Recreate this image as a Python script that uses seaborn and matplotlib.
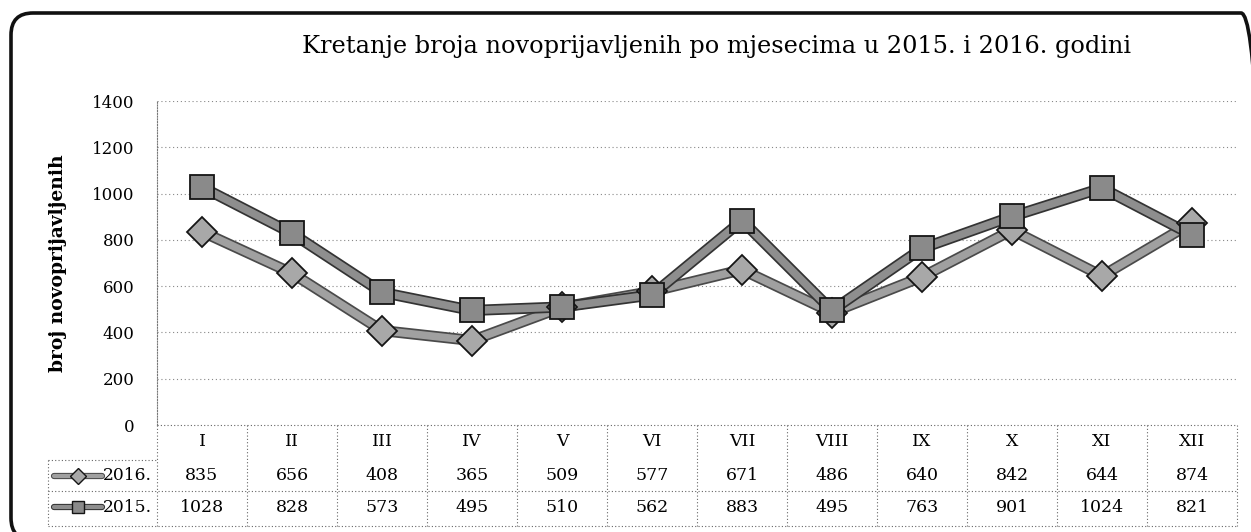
import numpy as np
import pandas as pd
import matplotlib
matplotlib.use("Agg")
import matplotlib.pyplot as plt
import matplotlib.patheffects as pe
from matplotlib.patches import FancyBboxPatch
import seaborn as sns

title = "Kretanje broja novoprijavljenih po mjesecima u 2015. i 2016. godini"
ylabel = "broj novoprijavljenih"
months = ["I", "II", "III", "IV", "V", "VI", "VII", "VIII", "IX", "X", "XI", "XII"]
vals_2016 = [835, 656, 408, 365, 509, 577, 671, 486, 640, 842, 644, 874]
vals_2015 = [1028, 828, 573, 495, 510, 562, 883, 495, 763, 901, 1024, 821]
series_names = ["2016.", "2015."]
yticks = [0, 200, 400, 600, 800, 1000, 1200, 1400]

sns.set_theme(style="white")
plt.rcParams["font.family"] = ["DejaVu Serif"]
plt.rcParams["text.color"] = "black"
plt.rcParams["axes.labelcolor"] = "black"
plt.rcParams["ytick.color"] = "black"

W, H = 1251, 532
fig = plt.figure(figsize=(W / 100, H / 100), dpi=100)
fig.patch.set_facecolor("white")

# overlay in pixel coordinates (y measured from the top)
ov = fig.add_axes([0, 0, 1, 1], zorder=0)
ov.set_xlim(0, W)
ov.set_ylim(0, H)
ov.axis("off")

def Y(py):
    return H - py

ov.add_patch(FancyBboxPatch((11, Y(540)), 1252, 527,
                            boxstyle="round,pad=0,rounding_size=22",
                            fill=False, edgecolor="#111111", linewidth=2.6))

left, right, top, bottom = 157, 1237, 101, 425
ax = fig.add_axes([left / W, 1 - bottom / H, (right - left) / W, (bottom - top) / H], zorder=2)
ax.patch.set_alpha(0)

x = np.arange(len(months))
df = pd.DataFrame({
    "x": np.concatenate([x, x]),
    "v": vals_2016 + vals_2015,
    "s": [series_names[0]] * 12 + [series_names[1]] * 12,
})

styles = {
    series_names[0]: dict(marker="D", color="#a0a0a0", edge="#4a4a4a", ms=15, mfc="#a8a8a8"),
    series_names[1]: dict(marker="s", color="#8e8e8e", edge="#333333", ms=17, mfc="#8a8a8a"),
}
for name in [series_names[0], series_names[1]]:
    st = styles[name]
    sub = df[df["s"] == name]
    sns.lineplot(data=sub, x="x", y="v", ax=ax, color=st["color"], linewidth=5.5,
                 path_effects=[pe.Stroke(linewidth=8, foreground=st["edge"]), pe.Normal()],
                 legend=False, zorder=3)
    sns.lineplot(data=sub, x="x", y="v", ax=ax, linestyle="none",
                 marker=st["marker"], markersize=st["ms"], markerfacecolor=st["mfc"],
                 markeredgecolor="#151515", markeredgewidth=1.3, legend=False, zorder=4)

ax.set_xlim(-0.5, 11.5)
ax.set_ylim(0, 1400)
ax.set_yticks(yticks)
ax.set_yticklabels([str(t) for t in yticks], fontsize=12)
ax.set_xticks([])
ax.set_xlabel("")
ax.set_ylabel(ylabel, fontsize=13.5, fontweight="bold", labelpad=18)
ax.tick_params(axis="y", length=0, pad=16)
for t in yticks[1:]:
    ax.axhline(t, color="#888888", linestyle=(0, (1, 2.5)), linewidth=0.8, zorder=1)
for s in ["top", "right", "bottom"]:
    ax.spines[s].set_visible(False)
ax.spines["left"].set_linestyle((0, (1, 1.5)))
ax.spines["left"].set_color("#777777")
ax.spines["left"].set_linewidth(0.8)

fig.text(716 / W, 1 - 47 / H, title, ha="center", va="center", fontsize=17.3)

# data table below the plot
cw = (right - left) / 12
tab_bottom = 526
leg_left = 48
dot = dict(color="#666666", linestyle=(0, (1, 2)), linewidth=0.8)
for i in range(13):
    xx = left + cw * i
    ov.plot([xx, xx], [Y(425), Y(tab_bottom)], **dot)
ov.plot([leg_left, leg_left], [Y(460), Y(tab_bottom)], **dot)
ov.plot([left, right], [Y(425), Y(425)], **dot)
for py in [491, tab_bottom]:
    ov.plot([leg_left, right], [Y(py), Y(py)], **dot)
ov.plot([leg_left, left], [Y(460), Y(460)], **dot)

row_y = [442, 476, 507]
for i, m in enumerate(months):
    xc = left + cw * (i + 0.5)
    ov.text(xc, Y(row_y[0]), m, ha="center", va="center", fontsize=12.5)
    ov.text(xc, Y(row_y[1]), str(vals_2016[i]), ha="center", va="center", fontsize=12.5)
    ov.text(xc, Y(row_y[2]), str(vals_2015[i]), ha="center", va="center", fontsize=12.5)

for r, name in enumerate(series_names):
    yy = Y(row_y[r + 1])
    st = styles[name]
    ov.plot([54, 102], [yy, yy], color=st["color"], linewidth=3,
            path_effects=[pe.Stroke(linewidth=4.5, foreground=st["edge"]), pe.Normal()])
    ov.plot([78], [yy], marker=st["marker"], markersize=8, markerfacecolor=st["mfc"],
            markeredgecolor="#151515", linestyle="none")
    ov.text(103, yy, name, ha="left", va="center", fontsize=12.3)

fig.savefig("out.png", dpi=100, facecolor="white")
